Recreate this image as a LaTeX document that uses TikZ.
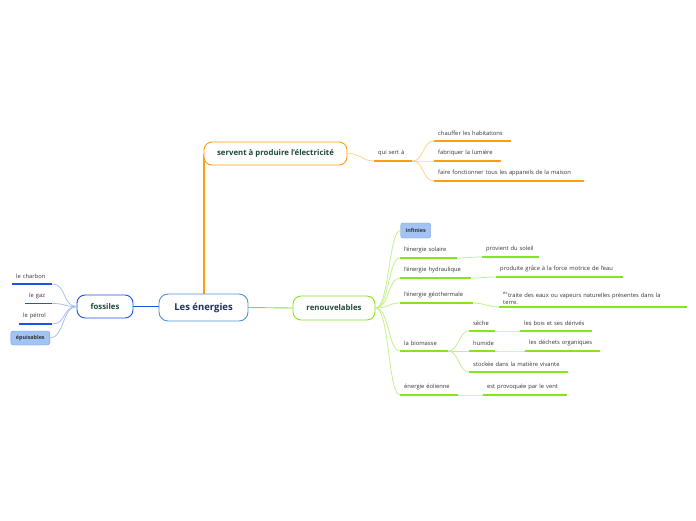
\documentclass[tikz,border=0pt]{standalone}
\usepackage{fontspec}
\setmainfont{Open Sans}
\usetikzlibrary{positioning}
\definecolor{mmorange}{HTML}{FF9E0D}
\definecolor{mmorangel}{HTML}{FFD28C}
\definecolor{mmgreen}{HTML}{86E41E}
\definecolor{mmgreenl}{HTML}{C2F08E}
\definecolor{mmblue}{HTML}{1D52E6}
\definecolor{mmbluel}{HTML}{A8BFF4}
\definecolor{mmcentre}{HTML}{4F93D6}
\definecolor{mmtagfill}{HTML}{A3C3F5}
\definecolor{mmtagline}{HTML}{6A9BEA}
\definecolor{mmnavy}{HTML}{1D2F5C}
\definecolor{mmdark}{HTML}{1E4A3A}
\definecolor{mmtext}{HTML}{333333}
\begin{document}
\begin{tikzpicture}[x=1pt,y=-1pt,every node/.style={font=\fontsize{5.8}{7.6}\selectfont,text=mmtext}]
\tikzset{centre/.style={draw=mmcentre,fill=white,line width=0.9pt,rounded corners=9pt,minimum width=89pt,minimum height=27pt,inner sep=0pt,font=\fontsize{9.5}{10}\selectfont\bfseries,text=mmnavy},
  branch/.style={fill=white,line width=0.9pt,rounded corners=8pt,minimum height=23pt,inner sep=0pt,font=\fontsize{7.8}{8}\selectfont\bfseries,text=mmdark},
  tag/.style={draw=mmtagline,fill=mmtagfill,rounded corners=2.5pt,minimum height=14pt,inner sep=0pt,font=\fontsize{5.4}{6}\selectfont\bfseries,text=black!80},
  leaf/.style={anchor=south west,inner xsep=4pt,inner ysep=0pt,minimum height=15pt,align=left},
  oline/.style={mmorange,line width=1.3pt},
  gline/.style={mmgreen,line width=1.3pt},
  bline/.style={mmblue,line width=1.3pt},
  olink/.style={mmorangel,line width=0.8pt},
  glink/.style={mmgreenl,line width=0.8pt},
  blink/.style={mmbluel,line width=0.8pt}}
\useasboundingbox (0,0) rectangle (696,520);
% main links
\coordinate (elecfoot) at (204,153.5);
\draw[mmorange,line width=1.5pt] (204,294) -- (elecfoot);
\draw[mmblue,line width=0.9pt] (133,306.5) -- (159,306.5);
\draw[mmgreen,line width=0.9pt] (248,307.5) -- (293,308);
% main topics
\node[centre] (nrg) at (203.5,307.5) {Les énergies};
\node[branch,draw=mmblue,minimum width=56pt] (fos) at (105,306.5) {fossiles};
\node[branch,draw=mmorange,minimum width=143pt] (elec) at (275.5,153.5) {servent à produire l'électricité};
\node[branch,draw=mmgreen,minimum width=82pt,minimum height=24pt] (ren) at (334,308) {renouvelables};
% fossiles
\node[leaf,text width=32pt] (charbon) at (12,284) {le charbon};
\node[leaf,text width=19pt] (gaz) at (25,303.5) {le gaz};
\node[leaf,text width=25pt] (petrol) at (19,324) {le pétrol};
\node[tag,minimum width=39pt] (epuis) at (30.3,338) {épuisables};
\foreach \n in {charbon,gaz,petrol}{
  \draw[bline] (\n.south west)--(\n.south east);
  \draw[blink] (fos.west) .. controls +(-14,0) and +(14,0) .. (\n.south east);
}
\draw[blink] (fos.west) .. controls +(-14,0) and +(14,0) .. (epuis.east);
% electricite
\node[leaf,text width=30pt] (qui) at (374,161) {qui sert à};
\node[leaf,text width=69pt] (chauf) at (434,141) {chauffer les habitations};
\node[leaf,text width=59pt] (fabr) at (434,161) {fabriquer la lumière};
\node[leaf,text width=142pt] (faire) at (434,181) {faire fonctionner tous les appareils de la maison};
\draw[olink] (elec.east) .. controls +(14,0) and +(-12,0) .. (qui.south west);
\foreach \n in {qui,chauf,fabr,faire}{
  \draw[oline] (\n.south west)--(\n.south east);
}
\foreach \n in {chauf,fabr,faire}{
  \draw[olink] (qui.south east) .. controls +(12,0) and +(-12,0) .. (\n.south west);
}
% renouvelables
\node[tag,minimum width=30pt,minimum height=15pt] (inf) at (415.7,230.5) {infinies};
\node[leaf,text width=49pt] (sol) at (400,258) {l’énergie solaire};
\node[leaf,text width=49pt] (soleil) at (482,257) {provient du soleil};
\node[leaf,text width=63pt] (hydr) at (400,278) {l’énergie hydraulique};
\node[leaf,text width=119pt] (eau) at (496,277) {produite grâce à la force motrice de l'eau};
\node[leaf,text width=65pt] (geo) at (400,303) {l’énergie géothermale};
\node[leaf,text width=180pt,inner ysep=2pt] (terre) at (499,307) {\textsuperscript{ex}traite des eaux ou vapeurs naturelles présentes dans la\\terre.};
\node[leaf,text width=40pt] (bio) at (400,351) {la biomasse};
\node[leaf,text width=18pt] (seche) at (469,331) {sèche};
\node[leaf,text width=64pt] (bois) at (520,331) {les bois et ses dérivés};
\node[leaf,text width=18pt] (humide) at (469,351) {humide};
\node[leaf,text width=67pt] (dechets) at (525,351) {les déchets organiques};
\node[leaf,text width=91pt] (stock) at (469,372) {stockée dans la matière vivante};
\node[leaf,text width=50pt] (eol) at (400,395) {énergie éolienne};
\node[leaf,text width=76pt] (vent) at (483,395) {est provoquée par le vent};
\draw[glink] (ren.east) .. controls +(14,0) and +(-12,0) .. (inf.west);
\foreach \n in {sol,hydr,geo,bio,eol}{
  \draw[glink] (ren.east) .. controls +(14,0) and +(-12,0) .. (\n.south west);
}
\foreach \a/\b in {sol/soleil,hydr/eau,geo/terre,bio/seche,bio/humide,bio/stock,seche/bois,humide/dechets,eol/vent}{
  \draw[glink] (\a.south east) .. controls +(10,0) and +(-10,0) .. (\b.south west);
}
\foreach \n in {sol,soleil,hydr,eau,geo,terre,bio,seche,bois,humide,dechets,stock,eol,vent}{
  \draw[gline] (\n.south west)--(\n.south east);
}
\end{tikzpicture}
\end{document}
